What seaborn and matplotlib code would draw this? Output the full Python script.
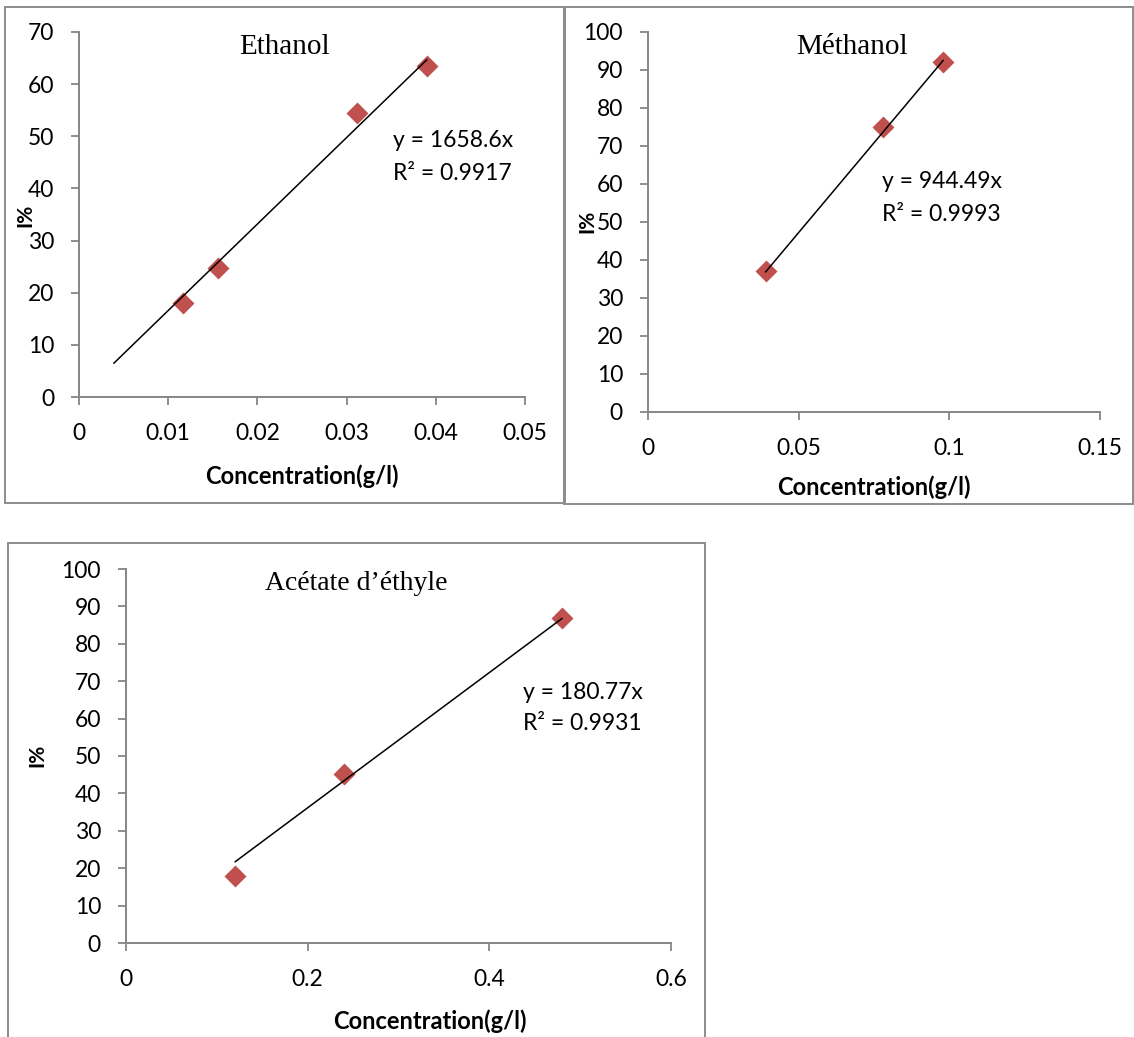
import matplotlib
matplotlib.use("Agg")
import matplotlib.pyplot as plt
from matplotlib.patches import Rectangle
import seaborn as sns
import pandas as pd
import numpy as np

# Calibration data (concentration in g/l, inhibition I%)
ethanol_conc = [0.0117, 0.0156, 0.0312, 0.039]
ethanol_inh = [18.0, 24.7, 54.5, 63.4]
methanol_conc = [0.039, 0.078, 0.098]
methanol_inh = [37.0, 75.0, 92.0]
acetate_conc = [0.12, 0.24, 0.48]
acetate_inh = [18.0, 45.3, 87.0]

# Linear fits through the origin (slope, R²) and the span drawn for each
slopes = [1658.6, 944.49, 180.77]
r2_values = [0.9917, 0.9993, 0.9931]
fit_ranges = [(0.0039, 0.039), (0.039, 0.098), (0.12, 0.48)]

titles = ["Ethanol", "Méthanol", "Acétate d\u2019éthyle"]
x_ticks = [[0, 0.01, 0.02, 0.03, 0.04, 0.05], [0, 0.05, 0.1, 0.15], [0, 0.2, 0.4, 0.6]]
x_ticklabels = [["0", "0.01", "0.02", "0.03", "0.04", "0.05"],
                ["0", "0.05", "0.1", "0.15"],
                ["0", "0.2", "0.4", "0.6"]]
y_ticks = [list(range(0, 71, 10)), list(range(0, 101, 10)), list(range(0, 101, 10))]

sns.set_theme(style="white")
plt.rcParams["font.family"] = ["Lato", "DejaVu Sans"]
plt.rcParams["text.color"] = "black"

W, H = 1134, 1037
fig = plt.figure(figsize=(W / 100, H / 100), dpi=100)
fig.patch.set_facecolor("white")


def fx(px):
    return px / W


def fy(py):
    return 1 - py / H


# Frames around each chart (left, top, right, bottom in pixels)
frames = [(5, 7, 565, 503), (564, 7, 1133, 504), (8, 543, 705, 1045)]
for x0, y0, x1, y1 in frames:
    fig.patches.append(Rectangle((fx(x0), fy(y1)), fx(x1) - fx(x0), fy(y0) - fy(y1),
                                 transform=fig.transFigure, fill=False,
                                 edgecolor="#8c8c8c", linewidth=1.4))

# Plot areas (left, top, right, bottom in pixels)
axes_px = [(79, 32, 525, 397), (648, 32, 1100, 412), (126, 569, 671, 943)]
ylabel_pos = [(25, 215), (587, 221), (37, 755)]
xlabel_pos = [(302, 476), (874, 487), (430, 1021)]
title_pos = [(284, 54), (852, 54), (356, 590)]
title_size = [21, 21, 20]
eq_pos = [(393, 147, 180), (882, 188, 221), (523, 699, 730)]

datasets = [(ethanol_conc, ethanol_inh), (methanol_conc, methanol_inh), (acetate_conc, acetate_inh)]

grey = "#868686"
for i, (xs, ys) in enumerate(datasets):
    l, t, r, b = axes_px[i]
    ax = fig.add_axes([fx(l), fy(b), fx(r) - fx(l), fy(t) - fy(b)])
    ax.set_facecolor("none")

    # fitted line y = slope * x
    x0, x1 = fit_ranges[i]
    fit_x = np.array([x0, x1])
    fit_df = pd.DataFrame({"x": fit_x, "y": slopes[i] * fit_x})
    sns.lineplot(data=fit_df, x="x", y="y", ax=ax, color="black", linewidth=1.1, zorder=3)

    df = pd.DataFrame({"x": xs, "y": ys})
    sns.scatterplot(data=df, x="x", y="y", ax=ax, marker="D", s=125, color="#C0504D",
                    edgecolor="#C0504D", linewidth=0, zorder=2)

    ax.set_xlim(x_ticks[i][0], x_ticks[i][-1])
    ax.set_ylim(y_ticks[i][0], y_ticks[i][-1])
    ax.set_xticks(x_ticks[i])
    ax.set_xticklabels(x_ticklabels[i])
    ax.set_yticks(y_ticks[i])
    ax.set_xlabel("")
    ax.set_ylabel("")
    for side in ["top", "right"]:
        ax.spines[side].set_visible(False)
    for side in ["left", "bottom"]:
        ax.spines[side].set_color(grey)
        ax.spines[side].set_linewidth(1.4)
    ax.tick_params(axis="both", direction="out", length=6, width=1.3, color=grey,
                   labelsize=16.5, labelcolor="black", left=True, bottom=True)
    ax.tick_params(axis="x", pad=13)
    ax.tick_params(axis="y", pad=12)

    # titles, axis labels and fit equations
    tx, ty = title_pos[i]
    fig.text(fx(tx), fy(ty), titles[i], ha="center", va="baseline",
             family="Liberation Serif", fontsize=title_size[i], color="black")
    lx, ly = xlabel_pos[i]
    fig.text(fx(lx), fy(ly), "Concentration(g/l)", ha="center", va="center",
             fontsize=17, fontweight="bold", color="black")
    yx, yy = ylabel_pos[i]
    fig.text(fx(yx), fy(yy), "I%", ha="center", va="center", rotation=90,
             fontsize=15, fontweight="bold", color="black")
    ex, ey1, ey2 = eq_pos[i]
    fig.text(fx(ex), fy(ey1), f"y = {slopes[i]}x", ha="left", va="baseline",
             fontsize=16.5, color="black")
    fig.text(fx(ex), fy(ey2), f"R\u00b2 = {r2_values[i]}", ha="left", va="baseline",
             fontsize=16.5, color="black")

fig.savefig("out.png", dpi=100, facecolor="white")
